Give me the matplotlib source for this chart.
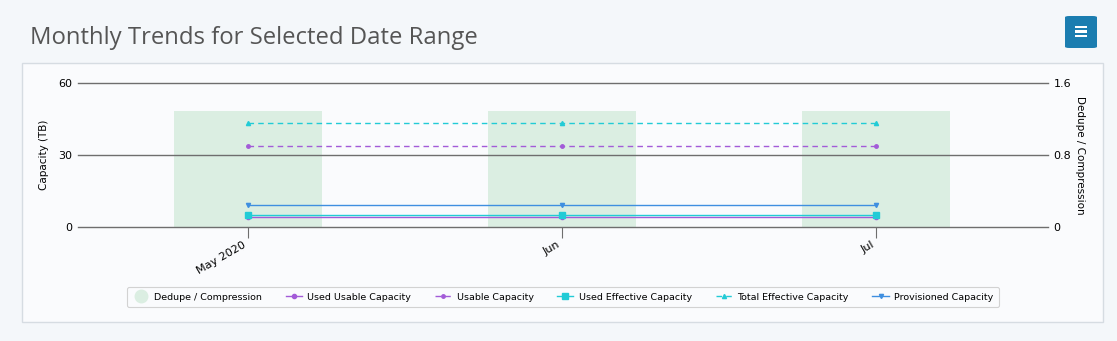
import numpy as np
import matplotlib
matplotlib.use("Agg")
from matplotlib import pyplot as plt
from matplotlib.patches import FancyBboxPatch, Rectangle
from matplotlib.lines import Line2D

months = ["May 2020", "Jun", "Jul"]
dedupe = [1.29, 1.29, 1.29]
used_usable = [4.2, 4.2, 4.2]
usable = [33.8, 33.8, 33.8]
used_effective = [5.0, 5.0, 5.0]
total_effective = [43.3, 43.3, 43.3]
provisioned = [9.2, 9.2, 9.2]

W, H = 1117, 341
fig = plt.figure(figsize=(W / 100, H / 100), dpi=100)
fig.patch.set_facecolor("#f4f7fa")

# panel behind the chart
fig.patches.append(Rectangle((22 / W, 1 - 322 / H), (1103 - 22) / W, (322 - 63) / H,
                             transform=fig.transFigure, facecolor="#fafbfd",
                             edgecolor="#d6dce2", linewidth=1, zorder=-5))

fig.text(30 / W, 1 - 38 / H, "Monthly Trends for Selected Date Range", fontsize=17.2,
         family="Open Sans", color="#555555", va="center", ha="left")

# menu button
fig.patches.append(FancyBboxPatch((1065 / W, 1 - 48 / H), 32 / W, 32 / H,
                                  boxstyle="round,pad=0,rounding_size=0.004",
                                  transform=fig.transFigure, facecolor="#1b7db0",
                                  edgecolor="none", zorder=2))
for yy in [27, 31.5, 36]:
    fig.patches.append(Rectangle((1075 / W, 1 - (yy + 1.2) / H), 12 / W, 2.4 / H,
                                 transform=fig.transFigure, facecolor="white",
                                 edgecolor="none", zorder=3))

ax = fig.add_axes([78 / W, (H - 227) / H, 970 / W, 144 / H])
ax2 = ax.twinx()
x = np.arange(len(months))

ax2.bar(x, dedupe, width=0.47, color="#dbeee2", zorder=1)
ax2.set_ylim(0, 1.6)
ax2.set_yticks([0, 0.8, 1.6])
ax2.set_yticklabels(["0", "0.8", "1.6"])
ax2.set_ylabel("Dedupe / Compression", rotation=270, labelpad=10, fontsize=7.5)

ax.set_zorder(ax2.get_zorder() + 1)
ax.patch.set_visible(False)

for yv in [0, 30, 60]:
    ax.axhline(yv, color="#6e6e6e", lw=1, clip_on=False, zorder=0.5)

purple = "#a35bd8"
cyan = "#22cbd6"
blue = "#3f8fe0"
l1, = ax.plot(x, used_usable, color=purple, marker="o", markersize=3, lw=1, label="Used Usable Capacity")
l2, = ax.plot(x, usable, color=purple, marker="o", markersize=2.5, lw=1, ls=(0, (4, 3)), label="Usable Capacity")
l3, = ax.plot(x, used_effective, color=cyan, marker="s", markersize=4, lw=1, label="Used Effective Capacity")
l4, = ax.plot(x, total_effective, color=cyan, marker="^", markersize=3, lw=1, ls=(0, (4, 3)), label="Total Effective Capacity")
l5, = ax.plot(x, provisioned, color=blue, marker="v", markersize=3, lw=1, label="Provisioned Capacity")

ax.set_ylim(0, 60)
ax.set_yticks([0, 30, 60])
ax.set_xlim(-0.541, 2.548)
ax.set_xticks(x)
ax.set_xticklabels(months, rotation=30, ha="right", fontsize=8)
ax.set_ylabel("Capacity (TB)", fontsize=7.5, labelpad=7)
for a in (ax, ax2):
    for s in a.spines.values():
        s.set_visible(False)
ax.tick_params(axis="y", length=0, labelsize=8, pad=4)
ax2.tick_params(axis="y", length=0, labelsize=8, pad=4)
ax.tick_params(axis="x", length=8, color="#6e6e6e", labelsize=8, pad=1)

dot = Line2D([], [], ls="none", marker="o", markersize=9, color="#dbeee2")
leg = fig.legend([dot, l1, l2, l3, l4, l5],
                 ["Dedupe / Compression", "Used Usable Capacity", "Usable Capacity",
                  "Used Effective Capacity", "Total Effective Capacity", "Provisioned Capacity"],
                 loc="center", bbox_to_anchor=(563 / W, 1 - 297 / H), ncol=6, fontsize=6.8,
                 frameon=True, fancybox=True, handlelength=1.7, handletextpad=0.6,
                 columnspacing=2.5, borderpad=0.6, edgecolor="#c8c8c8")
leg.get_frame().set_facecolor("#fafbfd")
leg.get_frame().set_linewidth(0.8)

fig.savefig("out.png", dpi=100, facecolor=fig.get_facecolor())
